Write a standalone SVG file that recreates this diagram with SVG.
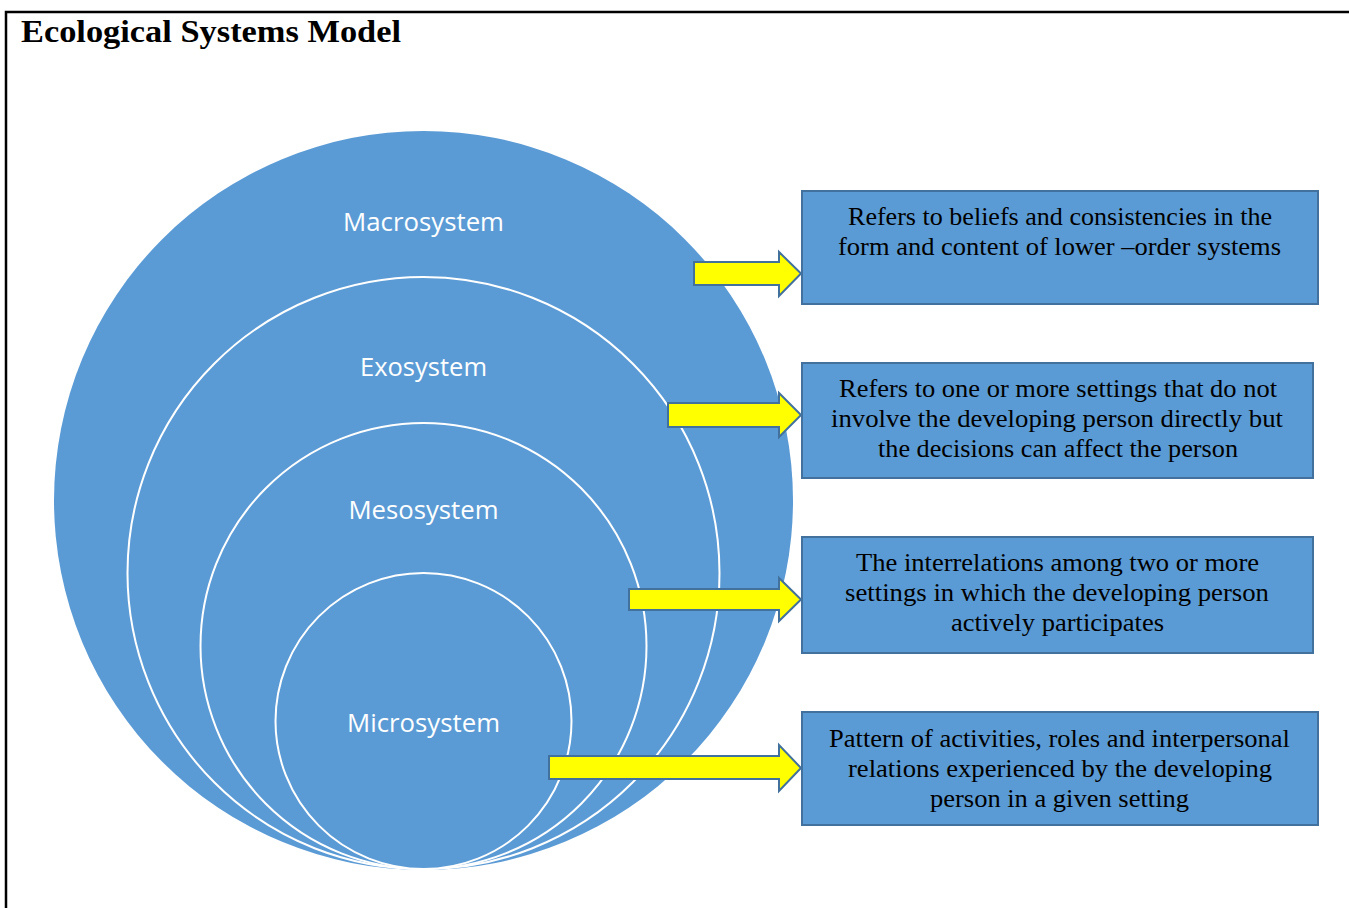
<svg xmlns="http://www.w3.org/2000/svg" width="1349" height="908" viewBox="0 0 1349 908">
<style>
.frame{stroke:#000;stroke-width:2.5;fill:none}
.title{font-family:"Liberation Serif","DejaVu Serif",serif;font-weight:bold;font-size:32px;fill:#000}
.ring{fill:#5B9BD5;stroke:#FFFFFF;stroke-width:2}
.lbl{font-family:"Open Sans","Liberation Sans",sans-serif;font-size:25px;fill:#FFFFFF;text-anchor:middle}
.box{fill:#5B9BD5;stroke:#41719C;stroke-width:2}
.txt{font-family:"Liberation Serif","DejaVu Serif",serif;font-size:25px;fill:#000;text-anchor:middle}
.arrow{fill:#FFFF00;stroke:#41719C;stroke-width:2;stroke-linejoin:miter}
</style>
<rect width="1349" height="908" fill="#FFFFFF"/>
<path class="frame" d="M6,908 V12 H1349"/>
<text class="title" x="21" y="42" textLength="380" lengthAdjust="spacingAndGlyphs">Ecological Systems Model</text>

<g id="circles">
<g id="macrosystem">
<circle cx="423.5" cy="500.5" r="369.5" fill="#5B9BD5"/>
<text class="lbl" x="423.5" y="231" textLength="161" lengthAdjust="spacingAndGlyphs">Macrosystem</text>
</g>
<g id="exosystem">
<circle class="ring" cx="423.5" cy="573" r="296"/>
<text class="lbl" x="423.5" y="376" textLength="127" lengthAdjust="spacingAndGlyphs">Exosystem</text>
</g>
<g id="mesosystem">
<circle class="ring" cx="423.5" cy="646" r="223"/>
<text class="lbl" x="423.5" y="519" textLength="150" lengthAdjust="spacingAndGlyphs">Mesosystem</text>
</g>
<g id="microsystem">
<circle class="ring" cx="423.5" cy="721" r="148"/>
<text class="lbl" x="423.5" y="732" textLength="153" lengthAdjust="spacingAndGlyphs">Microsystem</text>
</g>
</g>

<g id="connectors">
<polygon class="arrow" points="694,262 779,262 779,252 801,273.5 779,296 779,285 694,285"/>
<polygon class="arrow" points="668,403 779,403 779,393 801,415 779,437 779,427 668,427"/>
<polygon class="arrow" points="629,589 779,589 779,578 801,599.5 779,621 779,610 629,610"/>
<polygon class="arrow" points="549,756 779,756 779,745 801,768 779,791 779,779 549,779"/>
</g>

<g id="box-macro">
<rect class="box" x="802" y="191" width="516" height="113"/>
<text class="txt" x="1060" y="225" textLength="424" lengthAdjust="spacingAndGlyphs">Refers to beliefs and consistencies in the</text>
<text class="txt" x="1059.5" y="255" textLength="443" lengthAdjust="spacingAndGlyphs">form and content of lower –order systems</text>
</g>
<g id="box-exo">
<rect class="box" x="802" y="363" width="511" height="115"/>
<text class="txt" x="1058" y="397" textLength="438" lengthAdjust="spacingAndGlyphs">Refers to one or more settings that do not</text>
<text class="txt" x="1057" y="427" textLength="452" lengthAdjust="spacingAndGlyphs">involve the developing person directly but</text>
<text class="txt" x="1058" y="457" textLength="360" lengthAdjust="spacingAndGlyphs">the decisions can affect the person</text>
</g>
<g id="box-meso">
<rect class="box" x="802" y="537" width="511" height="116"/>
<text class="txt" x="1057.5" y="571" textLength="403" lengthAdjust="spacingAndGlyphs">The interrelations among two or more</text>
<text class="txt" x="1057" y="601" textLength="424" lengthAdjust="spacingAndGlyphs">settings in which the developing person</text>
<text class="txt" x="1057.5" y="631" textLength="213" lengthAdjust="spacingAndGlyphs">actively participates</text>
</g>
<g id="box-micro">
<rect class="box" x="802" y="712" width="516" height="113"/>
<text class="txt" x="1059.5" y="747" textLength="461" lengthAdjust="spacingAndGlyphs">Pattern of activities, roles and interpersonal</text>
<text class="txt" x="1060" y="777" textLength="424" lengthAdjust="spacingAndGlyphs">relations experienced by the developing</text>
<text class="txt" x="1059.5" y="807" textLength="259" lengthAdjust="spacingAndGlyphs">person in a given setting</text>
</g>
</svg>
